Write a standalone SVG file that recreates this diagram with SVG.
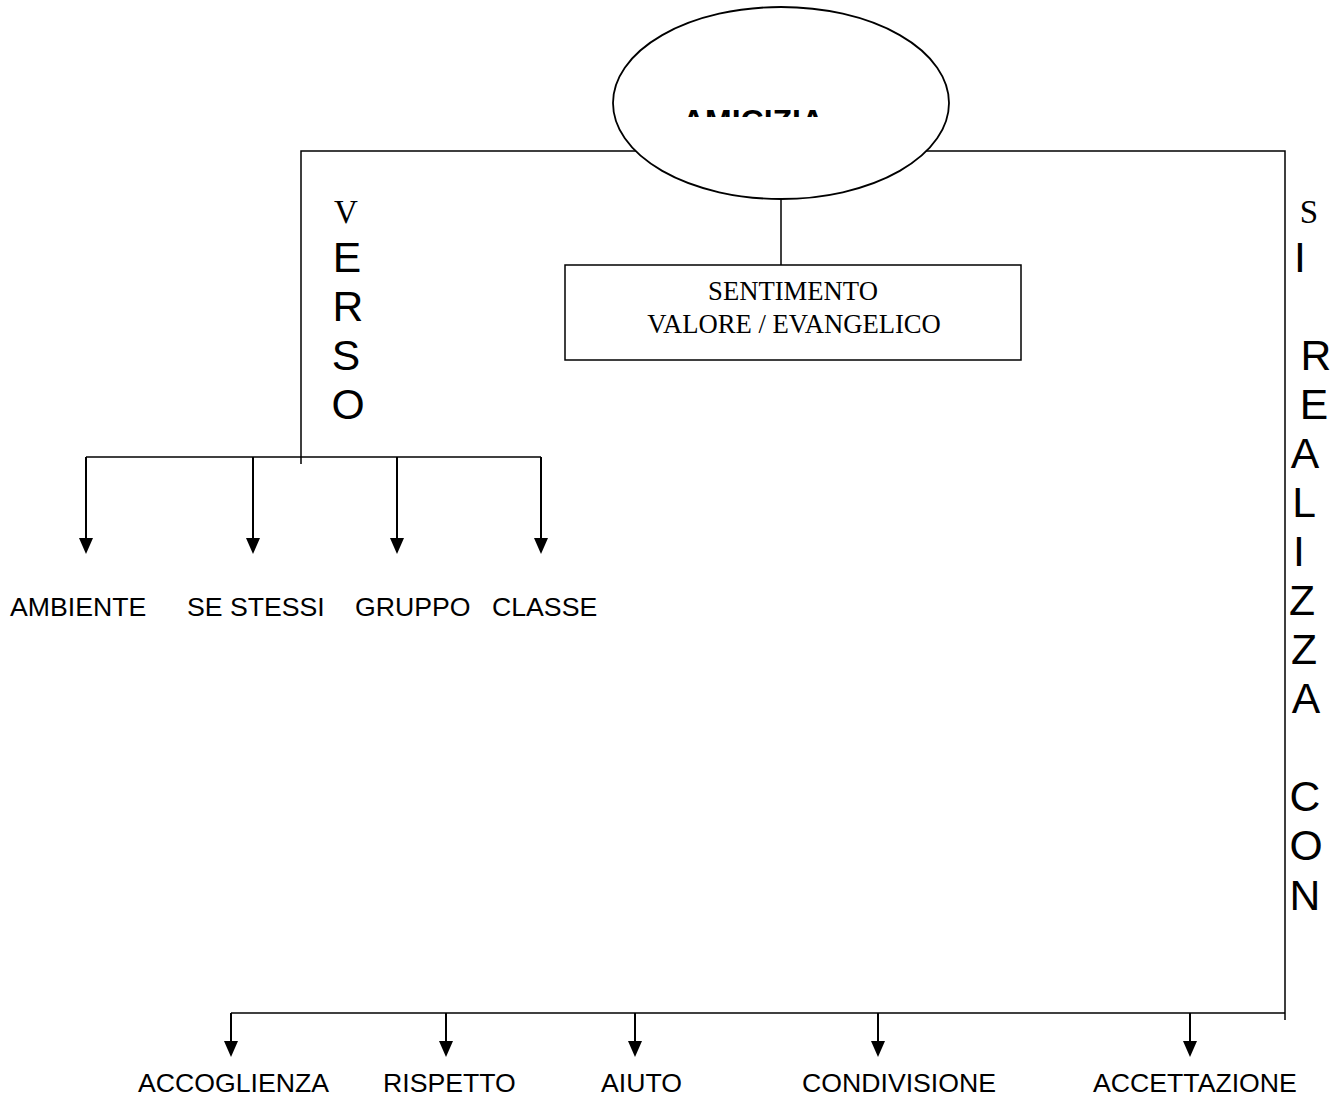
<svg xmlns="http://www.w3.org/2000/svg" width="1341" height="1096" viewBox="0 0 1341 1096">
<style>
.ln{stroke:#000;stroke-width:1.5;fill:none}
.ar{stroke:#000;stroke-width:2;fill:none}
.sans{font-family:"Liberation Sans",Arial,sans-serif;fill:#000}
.serif{font-family:"Liberation Serif","Times New Roman",serif;fill:#000}
.lbl{font-size:26.67px}
.big{font-size:42.67px;text-anchor:middle}
.bigs{font-size:33px;text-anchor:middle}
</style>
<defs>
<clipPath id="clipA"><rect x="600" y="0" width="360" height="117"/></clipPath>
</defs>
<g id="connectors">
<polyline class="ln" points="301,464 301,151 1285,151 1285,1020"/>
<line class="ln" x1="781" y1="199" x2="781" y2="265"/>
<line class="ln" x1="86" y1="457" x2="541" y2="457"/>
<line class="ar" x1="86" y1="457" x2="86" y2="538"/>
<line class="ar" x1="253" y1="457" x2="253" y2="538"/>
<line class="ar" x1="397" y1="457" x2="397" y2="538"/>
<line class="ar" x1="541" y1="457" x2="541" y2="538"/>
<path d="M79,538 L93,538 L86,554 Z M246,538 L260,538 L253,554 Z M390,538 L404,538 L397,554 Z M534,538 L548,538 L541,554 Z" fill="#000"/>
<line class="ln" x1="231" y1="1013" x2="1285" y2="1013"/>
<line class="ar" x1="231" y1="1013" x2="231" y2="1041"/>
<line class="ar" x1="446" y1="1013" x2="446" y2="1041"/>
<line class="ar" x1="635" y1="1013" x2="635" y2="1041"/>
<line class="ar" x1="878" y1="1013" x2="878" y2="1041"/>
<line class="ar" x1="1190" y1="1013" x2="1190" y2="1041"/>
<path d="M224,1041 L238,1041 L231,1057 Z M439,1041 L453,1041 L446,1057 Z M628,1041 L642,1041 L635,1057 Z M871,1041 L885,1041 L878,1057 Z M1183,1041 L1197,1041 L1190,1057 Z" fill="#000"/>
</g>
<g id="amicizia">
<ellipse cx="781" cy="103" rx="168" ry="96" fill="#fff" stroke="#000" stroke-width="1.8"/>
<text class="sans" x="753" y="132" font-size="32" font-weight="bold" text-anchor="middle" clip-path="url(#clipA)">AMICIZIA</text>
</g>
<g id="sentimento">
<rect x="565" y="265" width="456" height="95" fill="#fff" stroke="#000" stroke-width="1.5"/>
<text class="serif" x="793" y="300" font-size="26.67" text-anchor="middle">SENTIMENTO</text>
<text class="serif" x="794" y="333" font-size="26.67" text-anchor="middle">VALORE / EVANGELICO</text>
</g>
<g id="verso">
<text class="serif bigs" x="346" y="223">V</text>
<text class="sans big" x="347" y="272">E</text>
<text class="sans big" x="348" y="321">R</text>
<text class="sans big" x="346" y="370">S</text>
<text class="sans big" x="348" y="419">O</text>
</g>
<g id="si-realizza-con">
<text class="serif bigs" x="1309" y="223">S</text>
<text class="sans big" x="1300" y="272">I</text>
<text class="sans big" x="1316" y="370">R</text>
<text class="sans big" x="1314" y="419">E</text>
<text class="sans big" x="1305" y="468">A</text>
<text class="sans big" x="1304" y="517">L</text>
<text class="sans big" x="1299" y="566">I</text>
<text class="sans big" x="1302" y="615">Z</text>
<text class="sans big" x="1304" y="664">Z</text>
<text class="sans big" x="1306" y="713">A</text>
<text class="sans big" x="1305" y="811">C</text>
<text class="sans big" x="1306" y="860">O</text>
<text class="sans big" x="1305" y="910">N</text>
</g>
<g id="ambiente"><text class="sans lbl" x="10" y="616">AMBIENTE</text></g>
<g id="se-stessi"><text class="sans lbl" x="187" y="616">SE STESSI</text></g>
<g id="gruppo"><text class="sans lbl" x="355" y="616">GRUPPO</text></g>
<g id="classe"><text class="sans lbl" x="492" y="616">CLASSE</text></g>
<g id="accoglienza"><text class="sans lbl" x="138" y="1092">ACCOGLIENZA</text></g>
<g id="rispetto"><text class="sans lbl" x="383" y="1092">RISPETTO</text></g>
<g id="aiuto"><text class="sans lbl" x="601" y="1092">AIUTO</text></g>
<g id="condivisione"><text class="sans lbl" x="802" y="1092">CONDIVISIONE</text></g>
<g id="accettazione"><text class="sans lbl" x="1093" y="1092">ACCETTAZIONE</text></g>
</svg>
